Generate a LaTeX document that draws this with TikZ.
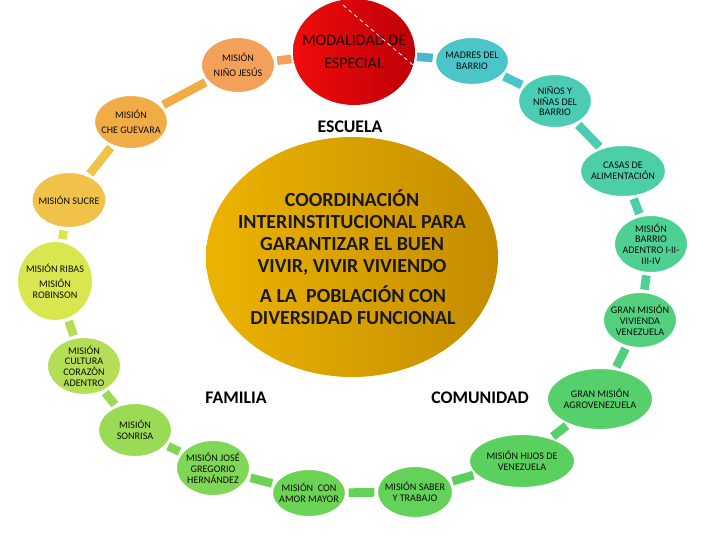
\documentclass[tikz,border=0pt]{standalone}
\usepackage{fontspec}
\setmainfont{Carlito}
\usetikzlibrary{shapes.geometric}

\definecolor{cNino}{RGB}{243,160,90}
\definecolor{cChe}{RGB}{242,172,70}
\definecolor{cSucre}{RGB}{241,194,74}
\definecolor{cRibas}{RGB}{218,230,80}
\definecolor{cCultura}{RGB}{180,222,85}
\definecolor{cSonrisa}{RGB}{154,218,85}
\definecolor{cJose}{RGB}{128,214,85}
\definecolor{cAmor}{RGB}{108,212,85}
\definecolor{cSaber}{RGB}{98,210,88}
\definecolor{cHijos}{RGB}{90,208,94}
\definecolor{cAgro}{RGB}{85,208,106}
\definecolor{cVivienda}{RGB}{82,208,126}
\definecolor{cBarrio}{RGB}{78,208,146}
\definecolor{cCasas}{RGB}{76,206,166}
\definecolor{cNinos}{RGB}{74,204,181}
\definecolor{cMadres}{RGB}{74,198,200}
\definecolor{cLinkMod}{RGB}{72,184,208}
\definecolor{rojoA}{RGB}{240,12,12}
\definecolor{rojoB}{RGB}{190,0,8}
\definecolor{oroA}{RGB}{236,180,0}
\definecolor{oroB}{RGB}{196,140,0}

\tikzset{every picture/.style={line width=0.75pt}}
\tikzset{
  mision/.style={ellipse, draw=white, line width=1.5pt, inner ysep=0pt, inner xsep=-3pt, align=center,
    text=black!95, font=\fontsize{7.6}{8.1}\selectfont},
  enlace/.style={line width=6.5pt, shorten <=1.2pt, shorten >=1.2pt},
  titulo/.style={inner sep=0.75pt, text=black, font=\fontsize{13.3}{16}\selectfont\bfseries},
  centro/.style={inner sep=0.75pt, align=center, text=black!90, font=\fontsize{15}{16.5}\selectfont\bfseries},
}

\begin{document}
\begin{tikzpicture}[x=0.75pt,y=0.75pt,yscale=-1,xscale=1]
\useasboundingbox (0,0) rectangle (720,540);

%Shape: Ellipse (gold centre)
\shade [left color=oroA, right color=oroB] (352,257) ellipse (146 and 120);

% Text Node
\node [centro] (coord) at (352,232) {COORDINACIÓN\\INTERINSTITUCIONAL PARA\\GARANTIZAR EL BUEN\\VIVIR, VIVIR VIVIENDO};
% Text Node
\node [centro] (poblacion) at (353,305.5) {A LA\ \ POBLACIÓN CON\\DIVERSIDAD FUNCIONAL};

% Text Node
\node [titulo] (escuela) at (350,127) {ESCUELA};
% Text Node
\node [titulo] (familia) at (236,398) {FAMILIA};
% Text Node
\node [titulo] (comunidad) at (480,398) {COMUNIDAD};

%Shape: Ellipse (modalidad)
\node [ellipse, inner ysep=0pt, inner xsep=-8pt, minimum width=91.5pt, minimum height=79.5pt, left color=rojoA, right color=rojoB,
  align=center, text=black!90!red, font=\fontsize{12}{17.25}\selectfont] (modal) at (354,52) {MODALIDAD DE\\ESPECIAL};
\draw [color=white, dash pattern=on 3pt off 2.5pt, line width=0.6] (343,5) -- (413,65);

%Shape: Ellipse
\node [mision, fill=cNino, minimum width=55.5pt, minimum height=42pt] (nino) at (238,65) {MISIÓN\\[3.5pt]NIÑO JESÚS};
%Shape: Ellipse
\node [mision, fill=cChe, minimum width=55.5pt, minimum height=40.5pt] (che) at (131,122) {MISIÓN\\[3pt]CHE GUEVARA};
%Shape: Ellipse
\node [mision, fill=cSucre, minimum width=55.5pt, minimum height=42pt] (sucre) at (69,200) {MISIÓN SUCRE};
%Shape: Ellipse
\node [mision, fill=cRibas, minimum width=57pt, minimum height=60pt] (ribas) at (55,281) {MISIÓN RIBAS\\[3pt]MISIÓN\\ROBINSON};
%Shape: Ellipse
\node [mision, fill=cCultura, minimum width=55.5pt, minimum height=42pt] (cultura) at (84,366) {MISIÓN\\CULTURA\\CORAZÒN\\ADENTRO};
%Shape: Ellipse
\node [mision, fill=cSonrisa, minimum width=55.5pt, minimum height=40.5pt] (sonrisa) at (135,430) {MISIÓN\\SONRISA};
%Shape: Ellipse
\node [mision, fill=cJose, minimum width=55.5pt, minimum height=42pt] (jose) at (213,468) {MISIÓN JOSÉ\\GREGORIO\\HERNÁNDEZ};
%Shape: Ellipse
\node [mision, fill=cAmor, minimum width=55.5pt, minimum height=36pt] (amor) at (309,493) {MISIÓN\ \ CON\\AMOR MAYOR};
%Shape: Ellipse
\node [mision, fill=cSaber, minimum width=57pt, minimum height=39pt] (saber) at (415,492) {MISIÓN SABER\\Y TRABAJO};
%Shape: Ellipse
\node [mision, fill=cHijos, minimum width=79.5pt, minimum height=40.5pt] (hijos) at (522,461) {MISIÓN HIJOS DE\\VENEZUELA};
%Shape: Ellipse
\node [mision, fill=cAgro, minimum width=79.5pt, minimum height=46.5pt] (agro) at (600,399) {GRAN MISIÓN\\AGROVENEZUELA};
%Shape: Ellipse
\node [mision, fill=cVivienda, minimum width=55.5pt, minimum height=42pt] (vivienda) at (640,320) {GRAN MISIÓN\\VIVIENDA\\VENEZUELA};
%Shape: Ellipse
\node [mision, fill=cBarrio, minimum width=55.5pt, minimum height=43.5pt] (barrio) at (651,244) {MISIÓN\\BARRIO\\ADENTRO I-II-\\III-IV};
%Shape: Ellipse
\node [mision, fill=cCasas, minimum width=64.5pt, minimum height=39pt] (casas) at (623,171) {CASAS DE\\ALIMENTACIÓN};
%Shape: Ellipse
\node [mision, fill=cNinos, minimum width=55.5pt, minimum height=40.5pt] (ninos) at (555,101) {NIÑOS Y\\NIÑAS DEL\\BARRIO};
%Shape: Ellipse
\node [mision, fill=cMadres, minimum width=55.5pt, minimum height=36pt] (madres) at (472,61) {MADRES DEL\\BARRIO};

%Straight Lines
\draw [enlace, color=cChe] (che) -- (nino);
\draw [enlace, color=cNino] (nino) -- (modal);
\draw [enlace, color=cLinkMod] (modal) -- (madres);
\draw [enlace, color=cMadres] (madres) -- (ninos);
\draw [enlace, color=cNinos] (ninos) -- (casas);
\draw [enlace, color=cCasas] (casas) -- (barrio);
\draw [enlace, color=cBarrio] (barrio) -- (vivienda);
\draw [enlace, color=cVivienda] (vivienda) -- (agro);
\draw [enlace, color=cAgro] (agro) -- (hijos);
\draw [enlace, color=cHijos] (hijos) -- (saber);
\draw [enlace, color=cSaber] (saber) -- (amor);
\draw [enlace, color=cAmor] (amor) -- (jose);
\draw [enlace, color=cJose] (jose) -- (sonrisa);
\draw [enlace, color=cSonrisa] (sonrisa) -- (cultura);
\draw [enlace, color=cCultura] (cultura) -- (ribas);
\draw [enlace, color=cRibas] (ribas) -- (sucre);
\draw [enlace, color=cSucre] (sucre) -- (che);

\end{tikzpicture}
\end{document}
